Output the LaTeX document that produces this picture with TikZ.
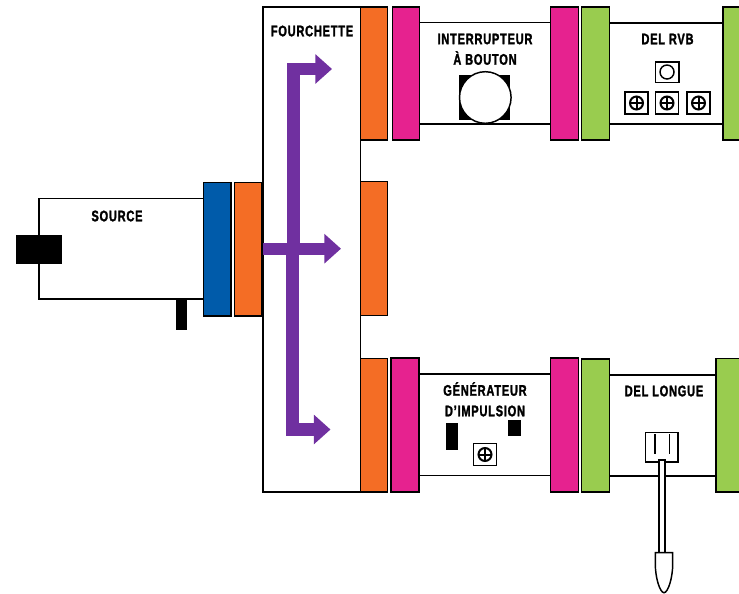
\documentclass[tikz,border=0pt]{standalone}
\usepackage{fontspec}
\usepackage{xcolor}
\usetikzlibrary{arrows.meta}
\newfontfamily\labelfont[FakeStretch=0.72,FakeBold=1.6,LetterSpace=5]{Liberation Sans Bold}
\definecolor{orangemod}{HTML}{F46D25}
\definecolor{pinkmod}{HTML}{E6228F}
\definecolor{greenmod}{HTML}{99CC4F}
\definecolor{bluemod}{HTML}{005BAA}
\definecolor{flowpurple}{HTML}{7030A0}
\tikzset{
  body/.style={draw=black, fill=white, line width=1.1pt},
  connector/.style={draw=black, line width=1.1pt},
  solid black/.style={fill=black},
  label/.style={font=\labelfont\fontsize{11.5}{13}\selectfont, text=black, inner sep=0pt},
  flow/.style={flowpurple, line width=9.2pt, line join=miter,
    -{Triangle[length=12.5pt, width=21.5pt]}},
}
\newcommand{\ledsquare}[2]{
  \draw[body, line width=1.2pt] (#1-11.5,#2-11) rectangle (#1+11.5,#2+11);
  \draw[line width=1.5pt] (#1,#2) circle (6.5);
  \draw[line width=1.5pt] (#1-6.5,#2) -- (#1+6.5,#2);
  \draw[line width=1.5pt] (#1,#2-6.5) -- (#1,#2+6.5);
}
\begin{document}
\begin{tikzpicture}[x=0.75pt, y=-0.75pt]
  \clip (0,0) rectangle (739,593);
  % source
  \draw[body] (39,198.5) rectangle (204,299);
  \fill[solid black] (16,234.5) rectangle (62,264);
  \fill[solid black] (175.7,299) rectangle (186.5,329.5);
  \draw[connector, fill=bluemod] (203.5,182.5) rectangle (231,316);
  \draw[connector, fill=orangemod] (234.5,182.5) rectangle (262,316);
  \node[label] (source) at (117,216) {SOURCE};
  % fork
  \draw[body] (263,7) rectangle (360.5,492);
  \node[label] (fourchette) at (312,31) {FOURCHETTE};
  \draw[connector, fill=orangemod] (360.5,7) rectangle (387.5,140);
  \draw[connector, fill=orangemod] (360.5,181.5) rectangle (387.5,315.5);
  \draw[connector, fill=orangemod] (360.5,358.5) rectangle (387.5,492);
  \draw[flow] (293.5,248) -- (293.5,69) -- (332,69);
  \draw[flow] (292.5,248) -- (292.5,429.5) -- (330.5,429.5);
  \draw[flow] (263,248.7) -- (341,248.7);
  % button
  \draw[body] (419,22.5) rectangle (551,124);
  \draw[connector, fill=pinkmod] (392.3,7) rectangle (419.3,140);
  \draw[connector, fill=pinkmod] (550.7,7) rectangle (578.7,140);
  \fill[solid black] (459.3,75.3) rectangle (510,120);
  \draw[body] (485.3,97.5) circle (25.8);
  \node[label] (interrupteur) at (485,39) {INTERRUPTEUR};
  \node[label] (bouton) at (485,58) {À BOUTON};
  % rgb led
  \draw[body] (609,23) rectangle (724,124);
  \draw[connector, fill=greenmod] (581.7,7) rectangle (609.5,140);
  \draw[connector, fill=greenmod] (723,7) rectangle (745,140);
  \node[label] (delrvb) at (667.5,39) {DEL RVB};
  \draw[body, line width=1.2pt] (655.5,61.7) rectangle (678.7,82.5);
  \draw[line width=1.1pt] (667,72) circle (7);
  \foreach \ledx in {636.5,667,698.5}
    \ledsquare{\ledx}{103}
  % pulse generator
  \draw[body] (419,374) rectangle (551,475.3);
  \draw[connector, fill=pinkmod] (391,358) rectangle (419,492);
  \draw[connector, fill=pinkmod] (550.7,358) rectangle (578.5,492);
  \fill[solid black] (446.3,422.7) rectangle (457.5,450.3);
  \fill[solid black] (508,420.3) rectangle (521.3,436.3);
  \ledsquare{485}{454.5}
  \node[label] (generateur) at (485,389) {GÉNÉRATEUR};
  \node[label] (impulsion) at (485,411) {D’IMPULSION};
  % long led
  \draw[body] (609,375) rectangle (717,476);
  \draw[connector, fill=greenmod] (581.3,359) rectangle (609.5,492);
  \draw[connector, fill=greenmod] (716,358.5) rectangle (745,492);
  \node[label] (dellongue) at (664,391) {DEL LONGUE};
  \draw[body] (645.7,432.7) rectangle (678,462);
  \draw[connector] (655,434) -- (655,454);
  \draw[connector] (669.3,434) -- (669.3,454);
  \draw[body, line width=1.4pt] (659.3,460) rectangle (665.3,553);
  \draw[body] (655.3,552.7) -- (672.7,552.7) -- (672.7,564)
    .. controls (672.7,578) and (668,592.7) .. (664,592.7)
    .. controls (660,592.7) and (655.3,578) .. (655.3,564) -- cycle;
\end{tikzpicture}
\end{document}
